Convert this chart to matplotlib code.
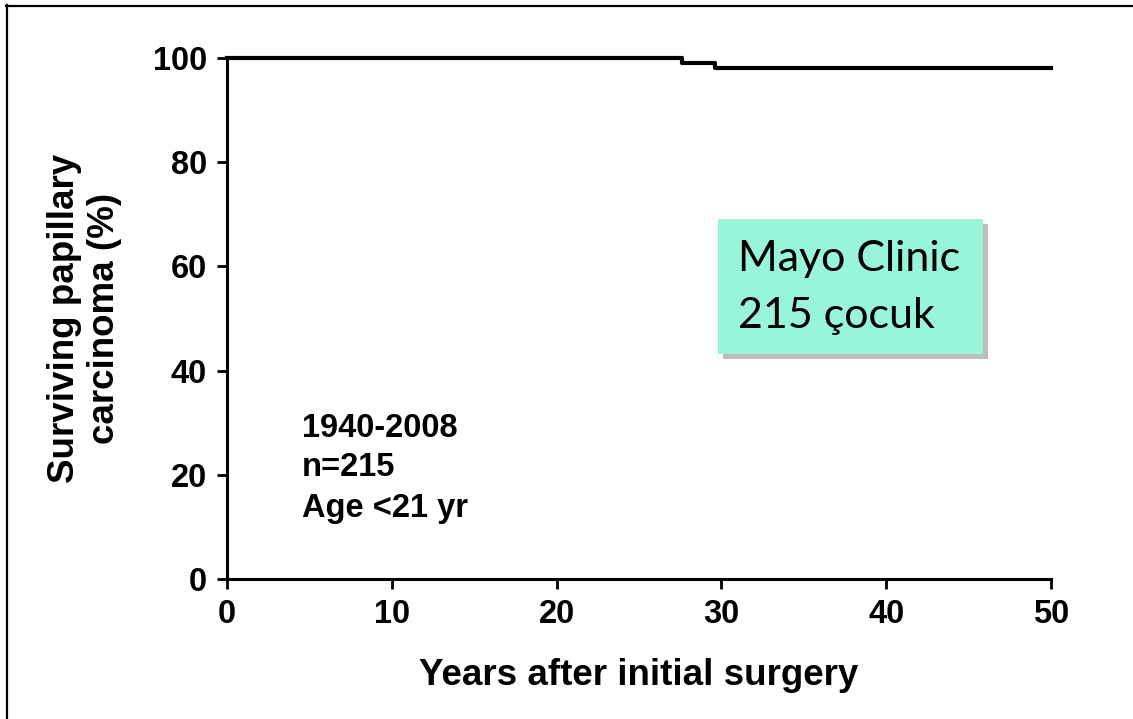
import numpy as np
import matplotlib
matplotlib.use('Agg')
import matplotlib.pyplot as plt
from matplotlib.patches import Rectangle
from matplotlib.lines import Line2D

plt.rcParams['font.family'] = ['Liberation Sans', 'DejaVu Sans']

# Kaplan-Meier style step data
years = [0, 27.6, 29.6, 50]
surviving = [100, 99, 98, 98]
xticks = [0, 10, 20, 30, 40, 50]
yticks = [0, 20, 40, 60, 80, 100]
info_lines = ['1940-2008', 'n=215', 'Age <21 yr']
box_lines = ['Mayo Clinic', '215 çocuk']

W, H = 1133, 719
fig = plt.figure(figsize=(W / 100, H / 100), dpi=100)
fig.patch.set_facecolor('white')

def px(x, y):
    return x / W, 1 - y / H

l, t = px(227, 58)
r, b = px(1051, 579)
ax = fig.add_axes([l, b, r - l, t - b])

ax.step(years, surviving, where='post', color='black', lw=3.0, clip_on=False, zorder=5)
ax.set_xlim(0, 50)
ax.set_ylim(0, 100)
ax.set_xticks(xticks)
ax.set_yticks(yticks)
ax.spines['top'].set_visible(False)
ax.spines['right'].set_visible(False)
for s in ['left', 'bottom']:
    ax.spines[s].set_linewidth(2.2)
ax.tick_params(direction='out', length=7.5, width=2, labelsize=23.5, pad=7)
for lab in ax.get_xticklabels() + ax.get_yticklabels():
    lab.set_fontweight('bold')

ax.set_xlabel('Years after initial surgery', fontsize=26.5, fontweight='bold', labelpad=20)
ax.set_ylabel('Surviving papillary\ncarcinoma (%)', fontsize=26.5, fontweight='bold',
              labelpad=22, linespacing=1.2)

# info text inside the plot
for i, s in enumerate(info_lines):
    fig.text(*px(302, 428 + i * 40), s, fontsize=23.5, fontweight='bold', va='center', ha='left')

# highlighted box with shadow
bx0, by0 = px(718, 354)
bx1, by1 = px(983, 219)
sh = 5
fig.patches.append(Rectangle((bx0 + sh / W, by0 - sh / H), bx1 - bx0, by1 - by0,
                             transform=fig.transFigure, facecolor='#bdbdbd', edgecolor='none',
                             zorder=1))
fig.patches.append(Rectangle((bx0, by0), bx1 - bx0, by1 - by0, transform=fig.transFigure,
                             facecolor='#98f5da', edgecolor='none', zorder=2))
for i, s in enumerate(box_lines):
    fig.text(*px(738, 259 + i * 57), s, fontsize=31, family=['Lato', 'DejaVu Sans'],
             va='center', ha='left', zorder=3)

# outer frame (top and left only)
fig.lines.append(Line2D([6 / W, 1], [1 - 5.5 / H] * 2, transform=fig.transFigure,
                        color='black', lw=1.6))
fig.lines.append(Line2D([6.5 / W] * 2, [0, 1 - 5 / H], transform=fig.transFigure,
                        color='black', lw=1.6))

fig.savefig('out.png', dpi=100)
